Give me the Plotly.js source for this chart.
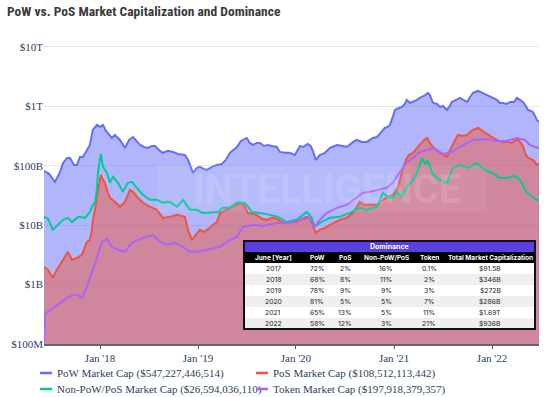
<!DOCTYPE html>
<html><head><meta charset="utf-8">
<script src="https://cdn.plot.ly/plotly-3.0.1.min.js"></script>
<style>html,body{margin:0;padding:0;background:#fff}#chart{width:554px;height:397px}</style>
</head><body><div id="chart"></div>
<script>
// ---- Data (market caps in $ billions) ----
const powDates = ['2017-06-06','2017-06-25','2017-07-17','2017-08-05','2017-08-16','2017-08-31','2017-09-11','2017-09-26','2017-10-07','2017-10-18','2017-10-29','2017-11-17','2017-11-24','2017-12-05','2017-12-20',
'2018-01-01','2018-01-12','2018-01-23','2018-01-30','2018-02-14','2018-02-25','2018-03-16','2018-04-04','2018-04-19','2018-05-04','2018-05-18','2018-05-30','2018-06-14','2018-06-28','2018-07-13','2018-07-25','2018-08-12','2018-08-23','2018-09-11','2018-09-30','2018-10-18','2018-11-13','2018-11-25','2018-12-02','2018-12-13','2018-12-28',
'2019-01-08','2019-01-23','2019-02-03','2019-02-22','2019-03-12','2019-03-31','2019-04-15','2019-04-30','2019-05-15','2019-05-26','2019-06-10','2019-06-25','2019-07-02','2019-07-13','2019-07-25','2019-08-08','2019-08-20','2019-09-04','2019-09-18','2019-10-03','2019-10-22','2019-11-02','2019-11-21','2019-12-09','2019-12-28',
'2020-01-16','2020-01-27','2020-02-14','2020-02-25','2020-03-04','2020-03-15','2020-03-30','2020-04-18','2020-05-07','2020-06-02','2020-06-24','2020-07-09','2020-08-01','2020-08-15','2020-09-03','2020-09-21','2020-10-14','2020-10-29','2020-11-12','2020-11-27','2020-12-08','2020-12-16','2020-12-27',
'2021-01-04','2021-01-19','2021-01-30','2021-02-10','2021-02-17','2021-03-01','2021-03-12','2021-03-27','2021-04-07','2021-04-22','2021-05-07','2021-05-14','2021-05-26','2021-06-10','2021-06-21','2021-07-02','2021-07-17','2021-07-28','2021-08-04','2021-08-20','2021-09-04','2021-09-15','2021-09-30','2021-10-11','2021-10-22','2021-11-10','2021-11-25','2021-12-13',
'2022-01-01','2022-01-19','2022-01-30','2022-02-10','2022-02-25','2022-03-09','2022-03-24','2022-04-04','2022-04-15','2022-04-26','2022-05-07','2022-05-15','2022-05-26','2022-06-02','2022-06-14','2022-06-17','2022-06-25'];
const powCap = [82,73,53.6,78.8,111.7,135.6,135.6,103.4,103.4,141,141,207,224,401,487,
451,487,386,357,294,330,272,200,272,305,262,224,207,200,215,215,178,165,178,171,158,152,125.5,103.4,75.9,92,
95.7,88.6,85.2,95.7,103.4,107.5,125.5,165,185,207,262,283,294,242,224,242,242,215,224,215,207,171,165,165,152,
215,207,233,215,178,125.5,152,165,200,224,215,207,252,272,252,252,294,305,357,433,451,487,663,
870,940,977,1098,1282,1141,1186,1282,1385,1497,1681,1556,1141,1098,977,1016,870,1016,1186,1282,1385,1282,1186,1440,1681,1816,1681,1556,
1385,1282,1141,1141,1098,1186,1186,1385,1282,1186,1016,870,837,805,639,591,547.2];

const posDates = ['2017-06-06','2017-06-21','2017-07-09','2017-07-28','2017-08-16','2017-09-03','2017-09-18','2017-10-07','2017-10-25','2017-11-13','2017-11-24','2017-12-02','2017-12-05','2017-12-13','2017-12-20','2017-12-28',
'2018-01-04','2018-01-12','2018-01-19','2018-01-30','2018-02-07','2018-02-25','2018-03-16','2018-04-04','2018-04-22','2018-05-04','2018-05-22','2018-06-10','2018-07-06','2018-08-01','2018-08-23','2018-09-18','2018-10-15','2018-11-13','2018-11-25','2018-12-09','2018-12-21',
'2019-01-08','2019-01-23','2019-02-14','2019-02-25','2019-03-12','2019-03-24','2019-04-11','2019-04-30','2019-05-22','2019-06-17','2019-07-06','2019-07-21','2019-08-08','2019-08-27','2019-09-15','2019-10-03','2019-10-22','2019-11-09','2019-11-28','2019-12-17',
'2020-01-04','2020-01-23','2020-02-10','2020-02-22','2020-03-04','2020-03-15','2020-03-30','2020-04-18','2020-05-07','2020-05-25','2020-06-12','2020-07-09','2020-08-01','2020-08-15','2020-08-26','2020-09-10','2020-10-02','2020-10-29','2020-11-20','2020-12-08','2020-12-27',
'2021-01-15','2021-01-23','2021-02-03','2021-02-14','2021-02-25','2021-03-12','2021-03-27','2021-04-07','2021-04-22','2021-05-04','2021-05-14','2021-05-26','2021-06-10','2021-06-21','2021-07-06','2021-07-17','2021-08-01','2021-08-16','2021-08-27','2021-09-15','2021-09-30','2021-10-11','2021-10-22','2021-11-10','2021-11-25','2021-12-13',
'2022-01-01','2022-01-19','2022-02-10','2022-03-01','2022-03-16','2022-04-04','2022-04-15','2022-04-26','2022-05-07','2022-05-15','2022-05-26','2022-06-06','2022-06-17','2022-06-25'];
const posCap = [1.99,1.77,1.30,1.91,2.61,3.56,2.61,2.82,3.17,5.24,5.66,8.34,12.3,18.1,30.0,47.7,
70.2,57.9,51.5,35.0,28.9,24.7,20.4,24.7,39.3,36.4,28.9,23.8,20.4,18.1,13.3,13.8,14.9,13.8,8.34,5.66,6.61,
8.34,7.72,8.99,10.1,11.3,16.1,17.4,19.6,22.0,23.8,16.1,15.5,14.9,12.8,12.3,13.3,12.8,11.3,10.9,11.3,
11.3,12.8,13.8,13.3,10.1,7.42,8.34,8.99,10.1,11.3,12.3,13.3,16.1,20.4,24.7,22.0,22.0,22.0,26.7,30.0,32.4,
42.5,57.9,92,125.5,152,164,200,224,272,294,242,207,178,164,152,141,200,272,330,317,330,371,401,433,386,343,
305,272,252,252,242,283,252,215,152,135.6,130.5,121,103.4,108.5];

const otherDates = ['2017-06-06','2017-06-21','2017-07-09','2017-07-28','2017-08-16','2017-09-03','2017-09-18','2017-10-11','2017-11-06','2017-11-24','2017-12-05','2017-12-13','2017-12-20','2017-12-24',
'2018-01-01','2018-01-04','2018-01-12','2018-01-27','2018-02-07','2018-02-18','2018-03-09','2018-03-27','2018-04-15','2018-04-30','2018-05-18','2018-06-10','2018-07-06','2018-08-01','2018-08-23','2018-09-18','2018-10-15','2018-11-06','2018-12-02','2018-12-28',
'2019-01-19','2019-02-22','2019-03-16','2019-04-04','2019-04-30','2019-05-26','2019-06-25','2019-07-21','2019-08-20','2019-09-26','2019-10-26','2019-11-28',
'2020-01-04','2020-02-10','2020-02-29','2020-03-11','2020-03-30','2020-05-07','2020-06-12','2020-07-20','2020-08-26','2020-09-21','2020-10-29','2020-11-20','2020-12-08','2020-12-27',
'2021-01-12','2021-01-30','2021-02-17','2021-03-12','2021-03-27','2021-04-15','2021-04-26','2021-05-07','2021-05-26','2021-06-21','2021-07-17','2021-08-08','2021-09-04','2021-10-03','2021-11-06','2021-12-06',
'2022-01-01','2022-01-30','2022-02-25','2022-03-27','2022-04-15','2022-05-11','2022-06-02','2022-06-17','2022-06-25'];
const otherCap = [13.8,12.8,8.34,10.1,12.3,13.3,11.3,13.8,13.3,16.7,22.0,23.8,39.3,75.9,
125.5,158,95.7,75.9,51.5,65.0,51.5,36.4,51.5,53.6,42.5,32.4,26.7,26.7,23.8,24.7,20.4,26.7,18.1,18.1,
16.1,16.7,16.7,19.6,19.6,23.8,23.8,16.7,16.1,14.9,13.8,11.3,
12.3,16.7,13.3,9.35,10.9,13.3,13.8,16.1,19.6,18.1,20.4,35.0,30.0,28.9,
36.4,30.0,44.1,57.9,75.9,135.6,107.5,121,70.2,57.9,51.5,92,103.4,92,111.7,85.2,
75.9,62.5,62.5,67.5,57.9,35.0,30.0,26.7,26.6];

const tokenDates = ['2017-06-06','2017-06-10','2017-06-21','2017-07-09','2017-08-05','2017-08-31','2017-09-22','2017-10-11','2017-10-25','2017-11-13','2017-12-02','2017-12-20',
'2018-01-08','2018-01-27','2018-02-14','2018-03-09','2018-04-04','2018-04-30','2018-05-22','2018-06-25','2018-07-17','2018-08-12','2018-09-07','2018-10-07','2018-11-06','2018-12-02','2018-12-28',
'2019-02-03','2019-03-12','2019-04-04','2019-04-30','2019-05-26','2019-06-17','2019-07-25','2019-08-31','2019-10-22','2019-12-09',
'2020-01-16','2020-02-22','2020-03-11','2020-03-30','2020-04-25','2020-06-02','2020-07-09','2020-08-15','2020-09-06','2020-10-02','2020-11-09','2020-12-05','2020-12-27',
'2021-01-23','2021-02-14','2021-03-12','2021-04-07','2021-05-04','2021-05-26','2021-07-02','2021-08-04','2021-09-04','2021-09-30','2021-10-22','2021-12-13',
'2022-01-19','2022-02-25','2022-04-04','2022-05-03','2022-05-22','2022-06-10','2022-06-25'];
const tokenCap = [0.104,0.334,0.347,0.405,0.492,0.594,0.67,0.67,0.594,0.916,1.58,2.82,
5.24,5.88,4.32,3.85,3.56,5.05,5.66,6.36,6.87,5.24,4.67,5.05,4.32,3.56,3.56,
3.85,4.16,4.67,5.66,6.36,9.35,10.1,9.72,10.9,10.9,
12.3,13.3,9.35,12.3,16.1,19.6,22.0,30.0,35.0,36.4,39.3,42.5,51.5,
78.8,111.7,135.6,171,185,200,158,171,207,242,272,283,
262,262,294,272,224,207,197.9];

const seriesNames = ['PoW Market Cap ($547,227,446,514)','PoS Market Cap ($108,512,113,442)','Non-PoW/PoS Market Cap ($26,594,036,110)','Token Market Cap ($197,918,379,357)'];
const seriesColors = ['#636efa','#EF553B','#00cc96','#ab63fa'];

const yTickVals = [1e8,1e9,1e10,1e11,1e12,1e13];
const yTickText = ['$100M','$1B','$10B','$100B','$1T','$10T'];

// Dominance table
const tableTitle = 'Dominance';
const tableHeaders = ['June [Year]','PoW','PoS','Non-PoW/PoS','Token','Total Market Capitalization'];
const tableYears = ['2017','2018','2019','2020','2021','2022'];
const tablePoW = ['72%','68%','78%','81%','65%','58%'];
const tablePoS = ['2%','8%','9%','5%','13%','12%'];
const tableOther = ['16%','11%','9%','5%','5%','3%'];
const tableToken = ['0.1%','2%','3%','7%','11%','21%'];
const tableTotal = ['$91.5B','$346B','$272B','$286B','$1.69T','$936B'];

// ---- Build ----
const B = v => v * 1e9;
const serif = 'Liberation Serif, Times New Roman, serif';
const inkBlue = '#2a3f5f';

const traces = [
  {x: powDates, y: powCap.map(B), name: seriesNames[0], type: 'scatter', mode: 'lines', showlegend: false,
   line: {color: seriesColors[0], width: 2}, fill: 'tozeroy', fillcolor: 'rgba(99,110,250,0.5)'},
  {x: posDates, y: posCap.map(B), name: seriesNames[1], type: 'scatter', mode: 'lines', showlegend: false,
   line: {color: seriesColors[1], width: 2}, fill: 'tozeroy', fillcolor: 'rgba(239,85,59,0.5)'},
  {x: otherDates, y: otherCap.map(B), name: seriesNames[2], type: 'scatter', mode: 'lines', showlegend: false,
   line: {color: seriesColors[2], width: 2}},
  {x: tokenDates, y: tokenCap.map(B), name: seriesNames[3], type: 'scatter', mode: 'lines', showlegend: false,
   line: {color: seriesColors[3], width: 2}}
];
// legend entries drawn as short plain lines (as in the reference legend); no visible data
const legendRows = ['legend', 'legend', 'legend2', 'legend2'];
seriesNames.forEach((n, i) => {
  traces.push({x: [powDates[0]], y: [null], name: n, type: 'scatter', mode: 'lines', showlegend: true,
    legend: legendRows[i], line: {color: seriesColors[i], width: 2.5, dash: '0px,18px,12px,100px'}});
});

const M = {l: 44, r: 15, t: 41, b: 53, autoexpand: false};
const PW = 554 - M.l - M.r, PH = 397 - M.t - M.b;
const px = p => (p - M.l) / PW;
const py = q => (M.t + PH - q) / PH;

const shapes = [];
const annotations = [];

// watermark
shapes.push({type: 'rect', xref: 'paper', yref: 'paper', layer: 'above',
  x0: px(157), x1: px(487), y0: py(212), y1: py(165),
  fillcolor: 'rgba(255,255,255,0.07)', line: {width: 0}});
annotations.push({xref: 'paper', yref: 'paper', x: px(327), y: py(189), text: 'INTELLIGENCE',
  showarrow: false, xanchor: 'center', yanchor: 'middle',
  font: {family: 'Roboto, sans-serif', size: 40, weight: 700, color: 'rgba(255,255,255,0.13)'}});

// table
const tL = 244, tR = 535, tTop = 241, titleB = 252, headB = 263, rowH = 11;
const colCenters = [273, 317, 345, 386, 429, 490];
const cols = [tableYears, tablePoW, tablePoS, tableOther, tableToken, tableTotal];
const tBottom = headB + rowH * tableYears.length;
shapes.push({type: 'rect', xref: 'paper', yref: 'paper', layer: 'above',
  x0: px(tL), x1: px(tR), y0: py(tBottom), y1: py(tTop), fillcolor: '#ffffff', line: {width: 0}});
shapes.push({type: 'rect', xref: 'paper', yref: 'paper', layer: 'above',
  x0: px(tL), x1: px(tR), y0: py(titleB), y1: py(tTop), fillcolor: '#5a3ee6', line: {width: 0}});
shapes.push({type: 'rect', xref: 'paper', yref: 'paper', layer: 'above',
  x0: px(tL), x1: px(tR), y0: py(headB), y1: py(titleB), fillcolor: '#000000', line: {width: 0}});
tableYears.forEach((yr, i) => {
  if (i % 2 === 1) {
    shapes.push({type: 'rect', xref: 'paper', yref: 'paper', layer: 'above',
      x0: px(tL), x1: px(tR), y0: py(headB + rowH * (i + 1)), y1: py(headB + rowH * i),
      fillcolor: '#efefef', line: {width: 0}});
  }
});
shapes.push({type: 'rect', xref: 'paper', yref: 'paper', layer: 'above',
  x0: px(tL), x1: px(tR), y0: py(tBottom), y1: py(tTop), fillcolor: 'rgba(0,0,0,0)',
  line: {color: '#111111', width: 2}});

const tFont = 'Inter, Roboto, Noto Sans, sans-serif';
annotations.push({xref: 'paper', yref: 'paper', x: px((tL + tR) / 2), y: py((tTop + titleB) / 2),
  text: tableTitle, showarrow: false, xanchor: 'center', yanchor: 'middle',
  font: {family: tFont, size: 7, weight: 700, color: '#ffffff'}});
tableHeaders.forEach((h, j) => {
  annotations.push({xref: 'paper', yref: 'paper', x: px(colCenters[j]), y: py((titleB + headB) / 2),
    text: h, showarrow: false, xanchor: 'center', yanchor: 'middle',
    font: {family: tFont, size: 6.5, weight: 700, color: '#ffffff'}});
});
cols.forEach((col, j) => {
  col.forEach((v, i) => {
    annotations.push({xref: 'paper', yref: 'paper', x: px(colCenters[j]), y: py(headB + rowH * i + rowH / 2),
      text: v, showarrow: false, xanchor: 'center', yanchor: 'middle',
      font: {family: tFont, size: 6.8, color: '#222222'}});
  });
});

const legendBase = {orientation: 'h', x: px(17), xanchor: 'left', yanchor: 'middle',
  entrywidth: 171, bgcolor: 'rgba(0,0,0,0)', traceorder: 'normal',
  font: {family: serif, size: 11, color: inkBlue}};

const layout = {
  width: 554, height: 397,
  margin: M,
  paper_bgcolor: '#ffffff', plot_bgcolor: '#ffffff',
  title: {text: 'PoW vs. PoS Market Capitalization and Dominance', x: 7 / 554, xanchor: 'left',
    y: 1 - 11 / 397, yanchor: 'middle', automargin: false,
    font: {family: 'Roboto Condensed, Liberation Sans Narrow, DejaVu Sans Condensed, sans-serif', size: 13.5, weight: 700, color: '#3a3a3a'}},
  xaxis: {type: 'date', range: ['2017-06-06', '2022-06-25'], showgrid: false, automargin: false,
    tickformat: "%b '%y", dtick: 'M12', tick0: '2018-01-01',
    ticks: 'outside', ticklen: 3, tickcolor: '#555', tickwidth: 1,
    showline: true, linecolor: '#666', linewidth: 2,
    tickfont: {family: serif, size: 11, color: inkBlue}},
  yaxis: {type: 'log', range: [8, 13.1], tickvals: yTickVals, ticktext: yTickText, automargin: false,
    showgrid: true, gridcolor: '#e6e6e6', gridwidth: 1, zeroline: false, showline: false,
    tickfont: {family: serif, size: 11, color: inkBlue}},
  showlegend: true,
  legend: Object.assign({}, legendBase, {y: py(373)}),
  legend2: Object.assign({}, legendBase, {y: py(389)}),
  shapes: shapes,
  annotations: annotations
};

Plotly.newPlot('chart', traces, layout, {staticPlot: true, displayModeBar: false});
</script>
</body></html>
